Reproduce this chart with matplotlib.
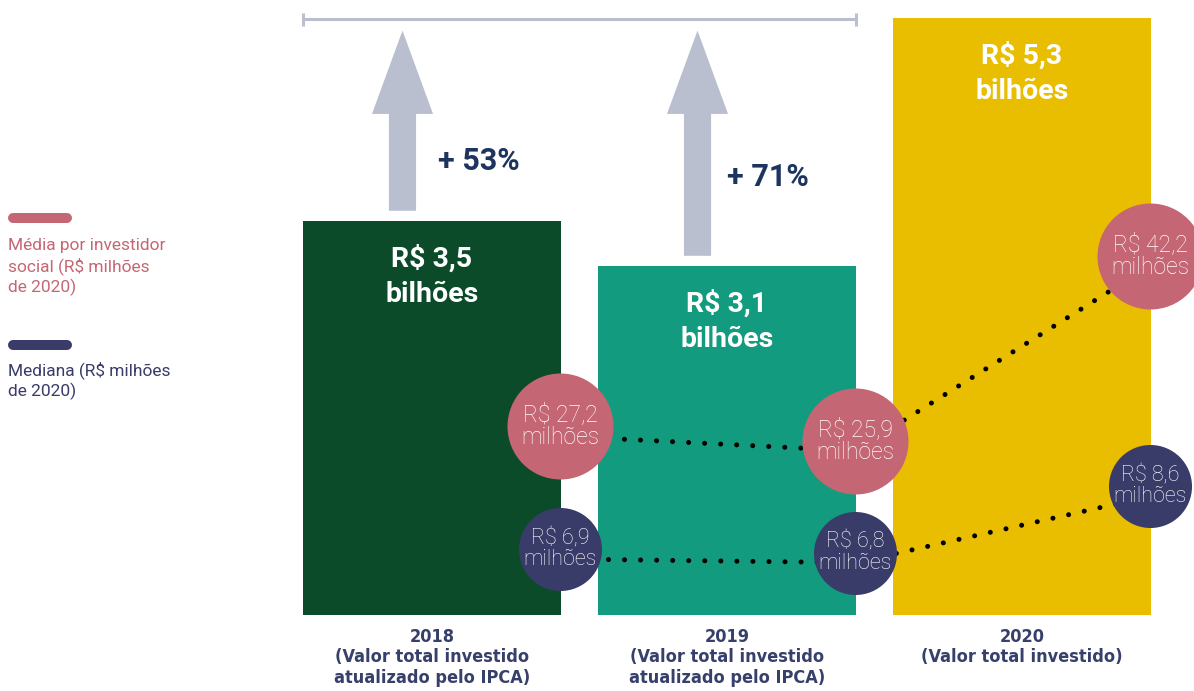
import matplotlib.pyplot as plt
from matplotlib.lines import Line2D
from matplotlib.patches import FancyArrow
from matplotlib.transforms import ScaledTranslation

plt.rcParams['font.family'] = ['Roboto', 'DejaVu Sans']

# Data
years = ['2018', '2019', '2020']
year_notes = ['(Valor total investido\natualizado pelo IPCA)',
              '(Valor total investido\natualizado pelo IPCA)',
              '(Valor total investido)']
total_bi = [3.5, 3.1, 5.3]        # R$ bilhões
media_mi = [27.2, 25.9, 42.2]     # média por investidor social, R$ milhões
mediana_mi = [6.9, 6.8, 8.6]      # mediana, R$ milhões
growth = ['+ 53%', '+ 71%']       # 2018 -> 2020, 2019 -> 2020

# Colors
bar_colors = ['#0c4b2a', '#129b7f', '#e9bd00']
pink = '#c56674'
navy = '#393b69'
arrow_col = '#babfd0'
pct_col = '#1d3461'
label_col = '#36406b'


def brl(v):
    return 'R$ ' + f'{v:.1f}'.replace('.', ',')


fig = plt.figure(figsize=(11.94, 6.91), dpi=100)
ax = fig.add_axes([0, 0, 1, 1])
ax.set_xlim(-432 / 295, 762 / 295)
ax.set_ylim(-76 / 112.6, 615 / 112.6)
ax.axis('off')

x = list(range(len(years)))
bw = 0.875
ax.bar(x, total_bi, width=bw, color=bar_colors, zorder=1)

# bar value labels
for i, v in enumerate(total_bi):
    ax.annotate(f'{brl(v)}\nbilhões', (i, v), xytext=(0, -17), textcoords='offset points',
                ha='center', va='top', color='white', fontsize=20.5, fontweight='bold',
                linespacing=1.38)

# year labels under bars
for i in x:
    ax.annotate(f'{years[i]}\n{year_notes[i]}', (i, 0), xytext=(0, -9), textcoords='offset points',
                ha='center', va='top', color=label_col, fontsize=13, fontweight='bold',
                family=['Liberation Sans Narrow', 'DejaVu Sans'], fontstretch='condensed',
                linespacing=1.2)

# growth arrows towards 2020
tip = 5.19
for i in range(2):
    base = total_bi[i] + 0.09
    ax.add_patch(FancyArrow(i - 0.1, base, 0, tip - base, width=0.092, head_width=0.207,
                            head_length=0.74, length_includes_head=True,
                            color=arrow_col, lw=0, zorder=2))

pct_pos = [(0.02, 4.03), (1.0, 3.89)]
for (px, py), t in zip(pct_pos, growth):
    ax.text(px, py, t, ha='left', va='center', color=pct_col, fontsize=22, fontweight='bold')

# bracket over 2018-2019
bx0, bx1, by = -bw / 2, 1 + bw / 2, 5.289
ax.plot([bx0, bx1], [by, by], color=arrow_col, lw=2.2, solid_capstyle='butt')
for bx in (bx0, bx1):
    ax.plot([bx, bx], [by - 0.058, by + 0.058], color=arrow_col, lw=2.2, solid_capstyle='butt')

# circles (own scales for each series)
xs = [i + 0.435 for i in x]
shift = ScaledTranslation(0, -0.1, fig.dpi_scale_trans)

axp = ax.twinx()
axp.set_ylim(3.88, 64.70)
axp.axis('off')
axp.plot(xs, media_mi, transform=axp.transData + shift, color='black', lw=3.6,
         ls=(0, (0.01, 3.2)), dash_capstyle='round', zorder=2)
axp.scatter(xs, media_mi, s=5825, color=pink, linewidths=0, zorder=3)
for xi, v in zip(xs, media_mi):
    axp.text(xi, v, f'{brl(v)}\nmilhões', ha='center', va='center', color='white',
             fontsize=16.5, fontweight='light', linespacing=1.0, zorder=4)

axn = ax.twinx()
axn.set_ylim(3.048, 21.79)
axn.axis('off')
axn.plot(xs, mediana_mi, transform=axn.transData + shift, color='black', lw=3.6,
         ls=(0, (0.01, 3.2)), dash_capstyle='round', zorder=2)
axn.scatter(xs, mediana_mi, s=3573, color=navy, linewidths=0, zorder=3)
for xi, v in zip(xs, mediana_mi):
    axn.text(xi, v, f'{brl(v)}\nmilhões', ha='center', va='center', color='white',
             fontsize=15.5, fontweight='light', linespacing=1.0, zorder=4)

# legend on the left
W, H = 1194, 691
fig.add_artist(Line2D([13 / W, 67 / W], [1 - 218.5 / H] * 2, lw=7.2, color=pink,
                      solid_capstyle='round'))
fig.text(8 / W, 1 - 238 / H, 'Média por investidor\nsocial (R$ milhões\nde 2020)',
         ha='left', va='top', color=pink, fontsize=12.5, linespacing=1.3)
fig.add_artist(Line2D([13 / W, 67 / W], [1 - 345 / H] * 2, lw=7.2, color=navy,
                      solid_capstyle='round'))
fig.text(8 / W, 1 - 361 / H, 'Mediana (R$ milhões\nde 2020)',
         ha='left', va='top', color=navy, fontsize=12.5, linespacing=1.3)

fig.savefig('out.png', dpi=100)
